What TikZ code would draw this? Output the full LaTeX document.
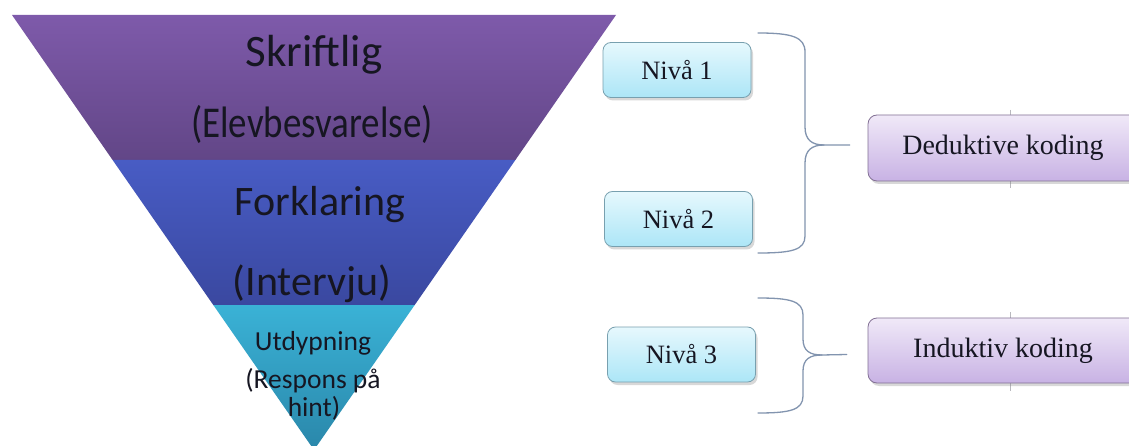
\documentclass[tikz,border=0pt]{standalone}
\usepackage{fontspec}
\setmainfont{Liberation Serif}
\newfontfamily\calfont{Carlito}
\usetikzlibrary{shadows}

\definecolor{purpleTop}{RGB}{126,90,170}
\definecolor{purpleBot}{RGB}{98,70,135}
\definecolor{blueTop}{RGB}{72,92,196}
\definecolor{blueBot}{RGB}{58,72,160}
\definecolor{cyanTop}{RGB}{58,178,214}
\definecolor{cyanBot}{RGB}{42,135,170}
\definecolor{inkDark}{RGB}{22,22,34}
\definecolor{nivaTop}{RGB}{230,248,253}
\definecolor{nivaBot}{RGB}{172,230,247}
\definecolor{nivaEdge}{RGB}{120,160,175}
\definecolor{codeTop}{RGB}{240,233,248}
\definecolor{codeBot}{RGB}{200,178,228}
\definecolor{codeEdge}{RGB}{130,112,148}
\definecolor{braceCol}{RGB}{130,148,175}
\definecolor{tickCol}{RGB}{185,185,190}

\tikzset{
  bigword/.style={font=\calfont\fontsize{42}{50}\selectfont, text=inkDark, anchor=base, inner sep=0pt},
  smallword/.style={font=\calfont\fontsize{27.5}{32}\selectfont, text=inkDark, anchor=base, inner sep=0pt},
  levelbox/.style={rounded corners=8pt, draw=nivaEdge, line width=0.8pt,
    top color=nivaTop, bottom color=nivaBot, minimum width=148pt, minimum height=55pt,
    inner sep=0pt, font=\fontsize{26.5}{30}\selectfont, text=inkDark,
    drop shadow={opacity=0.30, shadow xshift=2pt, shadow yshift=-3pt}},
  codebox/.style={rounded corners=9pt, draw=codeEdge, line width=0.8pt,
    top color=codeTop, bottom color=codeBot, minimum width=270pt,
    inner sep=0pt, font=\fontsize{28}{32}\selectfont, text=inkDark,
    drop shadow={opacity=0.30, shadow xshift=2pt, shadow yshift=-3pt}},
  bracket/.style={draw=braceCol, line width=1.3pt, line cap=round},
  faint/.style={draw=tickCol, line width=0.6pt}
}

\begin{document}
\begin{tikzpicture}[x=1pt, y=-1pt]
\useasboundingbox (0,0) rectangle (1129,446);
\clip (0,0) rectangle (1129,446);
\fill[white] (0,0) rectangle (1129,446);

% funnel corners
\coordinate (tl) at (12,15);
\coordinate (tr) at (616,15);
\coordinate (ml) at (112.6,160);
\coordinate (mr) at (515.4,160);
\coordinate (ll) at (213.3,305);
\coordinate (lr) at (414.7,305);
\coordinate (apex) at (314,450);

% funnel bands
\shade[top color=purpleTop, bottom color=purpleBot] (tl) -- (tr) -- (mr) -- (ml) -- cycle;
\shade[top color=blueTop, bottom color=blueBot] (ml) -- (mr) -- (lr) -- (ll) -- cycle;
\shade[top color=cyanTop, bottom color=cyanBot] (ll) -- (lr) -- (apex) -- cycle;

% funnel labels
\node[bigword, font=\calfont\fontsize{45}{50}\selectfont] (skr) at (314,67) {Skriftlig};
\node[bigword, font=\calfont\fontsize{44}{50}\selectfont, xscale=0.84, transform shape] (elev) at (312,138) {(Elevbesvarelse)};
\node[bigword] (fork) at (320,216) {Forklaring};
\node[bigword] (intv) at (312,295) {(Intervju)};
\node[smallword] (utd) at (313,350) {Utdypning};
\node[smallword] (resp) at (313,388) {(Respons på};
\node[smallword] (hint) at (314,416) {hint)};

% faint guide lines behind the coding boxes
\draw[faint] (1010,110) -- (1010,188);
\draw[faint] (1010,312) -- (1010,391);

% level boxes
\node[levelbox] (n1) at (677,70) {Nivå 1};
\node[levelbox] (n2) at (678.5,219) {Nivå 2};
\node[levelbox] (n3) at (681.5,354.5) {Nivå 3};

% coding boxes
\node[codebox, minimum height=66pt] (ded) at (1003,148) {Deduktive koding};
\node[codebox, minimum height=65pt] (ind) at (1003,350.5) {Induktiv koding};

% brace ends and tips
\coordinate (b1t) at (758,33);
\coordinate (b1b) at (758,253);
\coordinate (b1tip) at ([xshift=-18pt,yshift=3pt]ded.west);
\coordinate (b2t) at (758,298);
\coordinate (b2b) at (758,413);
\coordinate (b2tip) at ([xshift=-21pt,yshift=-4pt]ind.west);

% braces
\draw[bracket] (b1t) .. controls (792,33) and (805,37) .. (805,52) -- (805,127)
  .. controls (805,140) and (812,145) .. (824,145) -- (b1tip);
\draw[bracket] (824,145) .. controls (812,145) and (805,150) .. (805,163) -- (805,236)
  .. controls (805,250) and (792,253) .. (b1b);
\draw[bracket] (b2t) .. controls (790,298) and (803,301) .. (803,315) -- (803,339)
  .. controls (803,351) and (810,355) .. (822,355) -- (b2tip);
\draw[bracket] (822,355) .. controls (810,355) and (803,359) .. (803,371) -- (803,396)
  .. controls (803,410) and (790,413) .. (b2b);
\end{tikzpicture}
\end{document}
